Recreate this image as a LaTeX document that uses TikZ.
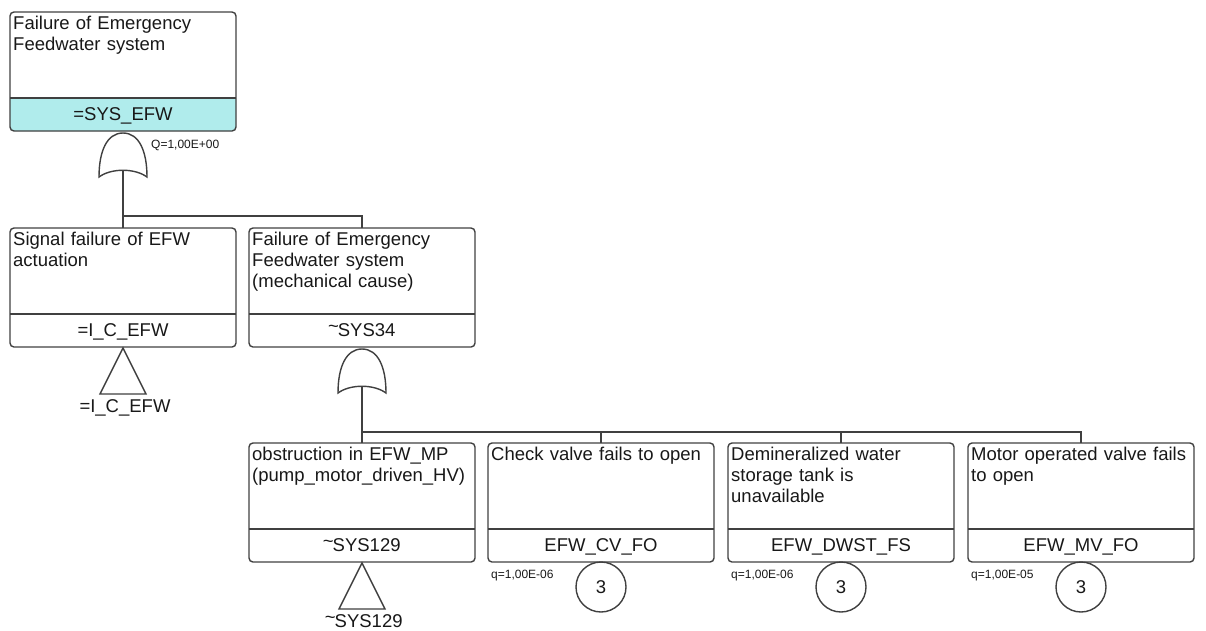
\documentclass[tikz,border=0pt]{standalone}
\usepackage{fontspec}
\setmainfont{Liberation Sans}
\usetikzlibrary{backgrounds}

\definecolor{linec}{RGB}{64,64,64}
\definecolor{txtc}{RGB}{24,24,24}
\definecolor{topfill}{RGB}{176,236,236}

\newcommand\evtfont{\fontsize{18.5}{21}\selectfont}
\newcommand\probfont{\fontsize{12}{14}\selectfont}
\newcommand\hitilde{\raisebox{4pt}{\kern-0.5pt\textasciitilde}\kern-1pt}

\tikzset{
  evbox/.style={draw=linec, line width=1.4pt, rounded corners=4pt,
    minimum width=226pt, minimum height=119pt, inner sep=0pt, outer sep=0pt},
  divider/.style={draw=linec, line width=1.4pt},
  evtitle/.style={anchor=base west, inner sep=0pt, text width=222pt,
    align=left, font=\evtfont, text=txtc},
  evid/.style={anchor=base, inner sep=0pt, font=\evtfont, text=txtc},
  wire/.style={draw=linec, line width=1.4pt},
  gateline/.style={draw=linec, line width=1.4pt, fill=white},
  prob/.style={anchor=base west, inner sep=0pt, font=\probfont, text=txtc},
  basic/.style={circle, draw=linec, line width=1.4pt, minimum size=50pt,
    inner sep=0pt, font=\evtfont, text=txtc},
  orgate/.pic={
    \draw[gateline] (0,0) .. controls (-16,0) and (-24,18) .. (-24,44)
      .. controls (-12,35) and (12,35) .. (24,44)
      .. controls (24,18) and (16,0) .. (0,0) -- cycle;
    \coordinate (-out) at (0,37);
  },
  transfer/.pic={
    \draw[gateline] (0,0) -- (-23,46) -- (23,46) -- cycle;
    \node[anchor=base, inner sep=0pt, font=\evtfont, text=txtc]
      (-lbl) at (2,64) {#1};
  },
}

% event box: name, centre, description, identifier
\newcommand\ftevent[4]{%
  \node[evbox] (#1) at (#2) {};
  \draw[divider] ([yshift=33pt]#1.south west) -- ([yshift=33pt]#1.south east);
  \node[evtitle] (#1-t) at ([xshift=3pt,yshift=-17pt]#1.north west) {#3};
  \node[evid] (#1-id) at ([yshift=11pt]#1.south) {#4};
}

\begin{document}
\begin{tikzpicture}[x=1pt, y=-1pt]
\useasboundingbox (0,0) rectangle (1206,630);

% top event
\ftevent{top}{123,71.5}{Failure of Emergency\\Feedwater system}{=SYS\_EFW}
\begin{scope}[on background layer]
  \clip ([yshift=33pt]top.south west) rectangle ([yshift=-2pt]top.south east);
  \fill[topfill, rounded corners=4pt] (top.north west) rectangle (top.south east);
\end{scope}
\node[prob] (qtop) at (151,148) {Q=1,00E+00};
\pic (g1) at ([yshift=-2pt]top.south) {orgate};

% second level
\ftevent{sig}{123,287.5}{Signal failure of EFW\\actuation}{=I\_C\_EFW}
\ftevent{mech}{362,287.5}{Failure of Emergency\\Feedwater system\\(mechanical cause)}{\hitilde SYS34}

\coordinate (j1) at (123,216);
\draw[wire] (g1-out) -- (sig.north);
\draw[wire] (j1) -| (mech.north);

\pic (t1) at ([yshift=-1pt]sig.south) {transfer={=I\_C\_EFW}};
\pic (g2) at ([yshift=-2pt]mech.south) {orgate};

% third level
\ftevent{obs}{362,502.5}{obstruction in EFW\_MP\\(pump\_motor\_driven\_HV)}{\hitilde SYS129}
\ftevent{cv}{601,502.5}{Check valve fails to open}{EFW\_CV\_FO}
\ftevent{dwst}{841,502.5}{Demineralized water\\storage tank is\\unavailable}{EFW\_DWST\_FS}
\ftevent{mv}{1081,502.5}{Motor operated valve fails\\to open}{EFW\_MV\_FO}

\coordinate (j2) at (362,432);
\draw[wire] (g2-out) -- (obs.north);
\draw[wire] (j2) -| (cv.north);
\draw[wire] (j2) -| (dwst.north);
\draw[wire] (j2) -| (mv.north);

\pic (t2) at ([yshift=-1pt]obs.south) {transfer={\hitilde SYS129}};

% basic events
\node[basic] (b1) at ([yshift=-25pt]cv.south) {3};
\node[basic] (b2) at ([yshift=-25pt]dwst.south) {3};
\node[basic] (b3) at ([yshift=-25pt]mv.south) {3};
\node[prob] (q1) at ([xshift=3pt,yshift=-16pt]cv.south west) {q=1,00E-06};
\node[prob] (q2) at ([xshift=3pt,yshift=-16pt]dwst.south west) {q=1,00E-06};
\node[prob] (q3) at ([xshift=3pt,yshift=-16pt]mv.south west) {q=1,00E-05};
\end{tikzpicture}
\end{document}
